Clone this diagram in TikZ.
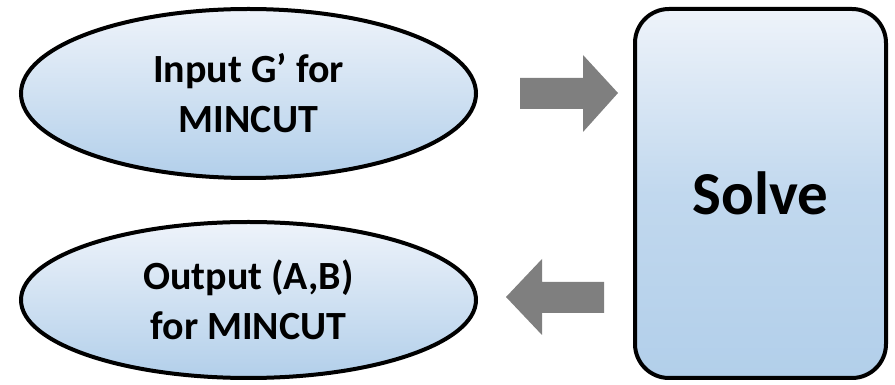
\documentclass[tikz,border=0pt]{standalone}
\usepackage{fontspec}
\setmainfont{Carlito}
\usetikzlibrary{shapes.geometric}
\definecolor{lightfill}{HTML}{EEF3FA}
\definecolor{darkfill}{HTML}{B2CFEA}
\definecolor{arrowgray}{HTML}{7F7F7F}
\tikzset{
  ell/.style={ellipse, draw=black, line width=4pt, minimum width=455pt, minimum height=169pt,
    top color=lightfill, bottom color=darkfill, inner sep=0pt,
    font=\fontsize{40}{50}\selectfont\bfseries, align=center},
  solvebox/.style={rectangle, rounded corners=34pt, draw=black, line width=4pt,
    minimum width=251pt, minimum height=369pt, inner sep=0pt,
    top color=lightfill, bottom color=darkfill, middle color=darkfill!75!lightfill,
    font=\fontsize{61}{70}\selectfont\bfseries},
  blockarrow/.style={fill=arrowgray, draw=none}
}
\begin{document}
\begin{tikzpicture}[x=1pt,y=1pt]
\useasboundingbox (0,0) rectangle (895,385);
\node[ell] (input) at (248.5,291.5) {Input G’ for\\MINCUT};
\node[ell, minimum height=156pt] (output) at (248.5,85) {Output (A,B)\\for MINCUT};
\node[solvebox] (solve) at (760.5,191.5) {Solve};
% right arrow
\fill[blockarrow] (520,307) -- (583,307) -- (583,330) -- (618,292) -- (583,253) -- (583,276) -- (520,276) -- cycle;
% left arrow
\fill[blockarrow] (604,103) -- (542,103) -- (542,126) -- (506,88) -- (542,50) -- (542,72) -- (604,72) -- cycle;
\end{tikzpicture}
\end{document}
